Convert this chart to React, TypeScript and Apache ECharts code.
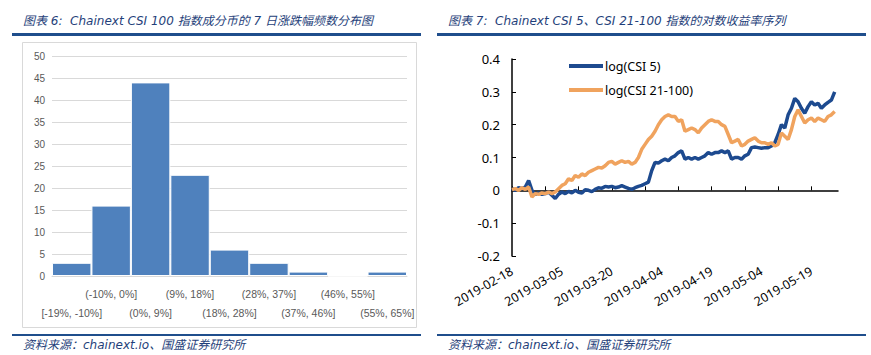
import React, { useEffect, useRef } from "react";
import * as echarts from "echarts";

// Left chart: histogram of 7-day returns
const binLabels = [
  "[-19%, -10%]", "(-10%, 0%]", "(0%, 9%]", "(9%, 18%]", "(18%, 28%]",
  "(28%, 37%]", "(37%, 46%]", "(46%, 55%]", "(55%, 65%]",
];
const binCounts = [3, 16, 44, 23, 6, 3, 1, 0, 1];

// Right chart: daily log returns from 2019-02-18
const startDate = "2019-02-18";
const dayCount = 99;
const csi5 = [
  0.005, 0.0, 0.008, 0.005, 0.01, 0.03, 0.0, -0.012, -0.008, -0.012,
  -0.01, -0.005, -0.015, -0.025, -0.012, -0.005, -0.01, -0.003, -0.008, 0.0,
  -0.006, -0.008, 0.002, 0.0, -0.004, 0.003, 0.008, 0.006, 0.012, 0.01,
  0.012, 0.008, 0.01, 0.014, 0.01, 0.006, 0.003, 0.008, 0.012, 0.015,
  0.02, 0.025, 0.06, 0.085, 0.083, 0.09, 0.095, 0.09, 0.1, 0.105,
  0.115, 0.12, 0.095, 0.1, 0.095, 0.1, 0.095, 0.1, 0.105, 0.115,
  0.11, 0.115, 0.115, 0.12, 0.115, 0.12, 0.095, 0.1, 0.1, 0.095,
  0.105, 0.11, 0.13, 0.132, 0.13, 0.128, 0.13, 0.13, 0.135, 0.145,
  0.17, 0.2, 0.19, 0.23, 0.25, 0.28, 0.27, 0.25, 0.235, 0.255,
  0.27, 0.26, 0.265, 0.25, 0.26, 0.268, 0.275, 0.3,
];
const csi21to100 = [
  0.002, 0.005, 0.0, 0.008, 0.003, 0.01, -0.02, -0.01, -0.012, -0.008,
  -0.01, -0.005, -0.01, -0.005, 0.005, 0.015, 0.02, 0.035, 0.03, 0.045,
  0.04, 0.05, 0.045, 0.055, 0.06, 0.065, 0.07, 0.068, 0.075, 0.085,
  0.088, 0.08, 0.085, 0.09, 0.085, 0.088, 0.08, 0.085, 0.1, 0.125,
  0.14, 0.155, 0.165, 0.18, 0.2, 0.215, 0.225, 0.23, 0.225, 0.225,
  0.21, 0.215, 0.18, 0.185, 0.19, 0.185, 0.175, 0.19, 0.2, 0.21,
  0.215, 0.21, 0.21, 0.2, 0.195, 0.17, 0.145, 0.15, 0.155, 0.135,
  0.14, 0.15, 0.155, 0.16, 0.15, 0.145, 0.145, 0.14, 0.145, 0.135,
  0.14, 0.175, 0.165, 0.155, 0.185, 0.225, 0.245, 0.225, 0.205, 0.215,
  0.22, 0.21, 0.22, 0.215, 0.21, 0.225, 0.23, 0.24,
];

function buildDates(start: string, n: number): string[] {
  const out: string[] = [];
  const t0 = Date.parse(start + "T00:00:00Z");
  for (let i = 0; i < n; i++) {
    out.push(new Date(t0 + i * 86400000).toISOString().slice(0, 10));
  }
  return out;
}

const titleLeft = "图表 6:  Chainext CSI 100 指数成分币的 7 日涨跌幅频数分布图";
const titleRight = "图表 7:  Chainext CSI 5、CSI 21-100 指数的对数收益率序列";
const sourceText = "资料来源：chainext.io、国盛证券研究所";

const NAVY = "#1f3f7a";
const FONT_TITLE = "'DejaVu Sans', 'Noto Sans CJK SC', sans-serif";
const FONT_LEFT = "'Liberation Sans', Arial, sans-serif";
const FONT_RIGHT = "'Noto Sans', 'DejaVu Sans', sans-serif";

export default function App() {
  const ref = useRef<HTMLDivElement>(null);
  useEffect(() => {
    if (!ref.current) return;
    const chart = echarts.init(ref.current, undefined, { renderer: "svg" });
    const dates = buildDates(startDate, dayCount);
    const titleStyle = {
      fontSize: 12,
      fontStyle: "italic",
      fontFamily: FONT_TITLE,
      fill: NAVY,
    };
    const srcStyle = {
      fontSize: 12,
      fontStyle: "italic",
      fontFamily: FONT_TITLE,
      fill: NAVY,
    };
    chart.setOption({
      animation: false,
      textStyle: { fontFamily: FONT_RIGHT },
      grid: [
        { left: 52, top: 56, width: 355, height: 220 },
        { left: 512, top: 59, width: 326, height: 197 },
      ],
      legend: {
        orient: "vertical",
        left: 569,
        top: 58,
        padding: 0,
        icon: "rect",
        itemWidth: 34,
        itemHeight: 4,
        itemGap: 8,
        textStyle: {
          fontSize: 12.5,
          color: "#000",
          fontFamily: FONT_RIGHT,
          padding: [0, 0, 0, -3],
          lineHeight: 16,
        },
        data: ["log(CSI 5)", "log(CSI 21-100)"],
      },
      xAxis: [
        {
          type: "category",
          gridIndex: 0,
          data: binLabels,
          axisLine: { lineStyle: { color: "#d9d9d9" } },
          axisTick: { show: false },
          axisLabel: {
            interval: 0,
            fontSize: 10.5,
            fontFamily: FONT_LEFT,
            color: "#595959",
            margin: 8,
            lineHeight: 19,
            formatter: (v: string, i: number) => (i % 2 === 0 ? "\n" + v : v),
          },
        },
        {
          type: "category",
          gridIndex: 1,
          data: dates,
          boundaryGap: false,
          axisLine: { lineStyle: { color: "#000", width: 1.5 } },
          axisTick: { interval: 9, inside: true, length: 4, lineStyle: { color: "#000" } },
          axisLabel: {
            interval: 14,
            rotate: 30,
            fontSize: 12.5,
            fontFamily: FONT_RIGHT,
            color: "#000",
            margin: 14,
          },
        },
      ],
      yAxis: [
        {
          type: "value",
          gridIndex: 0,
          min: 0,
          max: 50,
          interval: 5,
          axisLine: { show: false },
          axisTick: { show: false },
          axisLabel: { fontSize: 10, fontFamily: FONT_LEFT, color: "#595959", margin: 7 },
          splitLine: { lineStyle: { color: "#d9d9d9" } },
        },
        {
          type: "value",
          gridIndex: 1,
          min: -0.2,
          max: 0.4,
          interval: 0.1,
          axisLine: { show: true, lineStyle: { color: "#000", width: 1.5 } },
          axisTick: { show: true, inside: true, length: 4, lineStyle: { color: "#000" } },
          axisLabel: {
            fontSize: 13,
            fontFamily: FONT_RIGHT,
            color: "#000",
            margin: 12,
            formatter: (v: number) => {
              const r = Math.round(v * 10) / 10;
              return r === 0 ? "0" : r.toFixed(1);
            },
          },
          splitLine: { show: false },
        },
      ],
      series: [
        {
          type: "bar",
          xAxisIndex: 0,
          yAxisIndex: 0,
          data: binCounts,
          barCategoryGap: 0,
          itemStyle: { color: "#4f81bd", borderColor: "#ffffff", borderWidth: 1 },
        },
        {
          name: "log(CSI 5)",
          type: "line",
          xAxisIndex: 1,
          yAxisIndex: 1,
          data: csi5,
          symbol: "none",
          lineStyle: { color: "#1d4a8f", width: 3.5 },
          itemStyle: { color: "#1d4a8f" },
        },
        {
          name: "log(CSI 21-100)",
          type: "line",
          xAxisIndex: 1,
          yAxisIndex: 1,
          data: csi21to100,
          symbol: "none",
          lineStyle: { color: "#f0a35e", width: 3.5 },
          itemStyle: { color: "#f0a35e" },
        },
      ],
      graphic: [
        {
          type: "rect",
          z: -1,
          shape: { x: 22.5, y: 42.5, width: 394, height: 285 },
          style: { fill: "none", stroke: "#d9d9d9", lineWidth: 1 },
        },
        { type: "text", x: 23, y: 15, style: { ...titleStyle, text: titleLeft } },
        { type: "text", x: 448, y: 15, style: { ...titleStyle, text: titleRight } },
        {
          type: "rect",
          shape: { x: 12, y: 33, width: 409, height: 3 },
          style: { fill: "#1f4e8c" },
        },
        {
          type: "rect",
          shape: { x: 437, y: 33, width: 429, height: 3 },
          style: { fill: "#1f4e8c" },
        },
        {
          type: "rect",
          shape: { x: 12, y: 334, width: 409, height: 2 },
          style: { fill: "#1f4e8c" },
        },
        {
          type: "rect",
          shape: { x: 437, y: 334, width: 429, height: 2 },
          style: { fill: "#1f4e8c" },
        },
        { type: "text", x: 23, y: 339, style: { ...srcStyle, text: sourceText } },
        { type: "text", x: 448, y: 339, style: { ...srcStyle, text: sourceText } },
      ],
    });
    return () => chart.dispose();
  }, []);
  return (
    <div
      ref={ref}
      style={{ position: "fixed", left: 0, top: 0, width: 871, height: 355, background: "#fff" }}
    />
  );
}
